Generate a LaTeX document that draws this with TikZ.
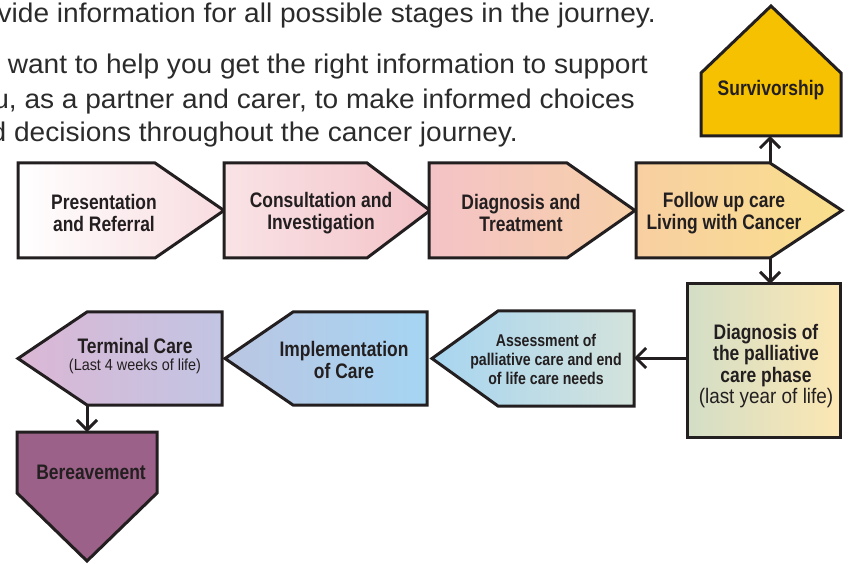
\documentclass[tikz,border=0pt]{standalone}
\usepackage{fontspec}
\setmainfont{Liberation Sans}
\newfontfamily\bodyfont[FakeStretch=1.04]{Liberation Sans}
\newfontfamily\labfont[FakeStretch=0.83]{Liberation Sans}
\newfontfamily\regfont[FakeStretch=0.9]{Liberation Sans}
\usetikzlibrary{arrows.meta}
\definecolor{ink}{HTML}{231F20}
\definecolor{txt}{HTML}{2B2B2B}
\definecolor{aL}{HTML}{FFFFFF}\definecolor{aR}{HTML}{F8DCE0}
\definecolor{bL}{HTML}{F9E3E6}\definecolor{bR}{HTML}{F3C3C8}
\definecolor{cL}{HTML}{F4C3C7}\definecolor{cR}{HTML}{F7D0A8}
\definecolor{dL}{HTML}{F8CFA2}\definecolor{dR}{HTML}{F9DF8C}
\definecolor{surv}{HTML}{F6C100}
\definecolor{pL}{HTML}{D3DEC6}\definecolor{pR}{HTML}{FCE7B3}
\definecolor{eL}{HTML}{A7D5F0}\definecolor{eR}{HTML}{D4E3DC}
\definecolor{iL}{HTML}{BAC6E2}\definecolor{iR}{HTML}{A5D5F3}
\definecolor{tL}{HTML}{DBB7D5}\definecolor{tR}{HTML}{C2C5E3}
\definecolor{ber}{HTML}{9B6188}
\begin{document}
\begin{tikzpicture}[x=1pt,y=-1pt,
  stage/.style={draw=ink, line width=3pt, line join=miter},
  lab/.style={align=center, inner sep=0pt, text=ink,
    font=\labfont\bfseries\fontsize{21}{21.5}\selectfont},
  labsm/.style={align=center, inner sep=0pt, text=ink,
    font=\labfont\bfseries\fontsize{17}{19}\selectfont},
  body/.style={inner sep=0pt, text=txt, anchor=base east,
    font=\bodyfont\fontsize{27}{30}\selectfont},
  conn/.style={draw=ink, line width=3pt,
    -{Straight Barb[length=10pt,width=20pt,line width=3pt]}}]
\clip (0,0) rectangle (852,564);

% intro text
\node[body] (p1) at (656,23) {ovide information for all possible stages in the journey.};
\node[body] (p2) at (648,74) {want to help you get the right information to support};
\node[body] (p3) at (635,109) {u, as a partner and carer, to make informed choices};
\node[body] (p4) at (518,142) {d decisions throughout the cancer journey.};

% top row
\shadedraw[stage, left color=aL, right color=aR]
  (18,163) -- (155,163) -- (224,210.5) -- (155,258) -- (18,258) -- cycle;
\shadedraw[stage, left color=bL, right color=bR]
  (224,163) -- (367,163) -- (430,210.5) -- (367,258) -- (224,258) -- cycle;
\shadedraw[stage, left color=cL, right color=cR]
  (429,163) -- (567,163) -- (635,210.5) -- (567,258) -- (429,258) -- cycle;
\shadedraw[stage, left color=dL, right color=dR]
  (636,163) -- (770,163) -- (842,210.5) -- (770,258) -- (636,258) -- cycle;

% survivorship
\path[stage, fill=surv]
  (701,136) -- (701,73) -- (771,6) -- (841,73) -- (841,136) -- cycle;

% palliative phase
\shadedraw[stage, left color=pL, right color=pR] (687,284) rectangle (840,437);

% bottom row
\shadedraw[stage, left color=eL, right color=eR]
  (634,311) -- (498,311) -- (432,358.5) -- (498,406) -- (634,406) -- cycle;
\shadedraw[stage, left color=iL, right color=iR]
  (427,312) -- (293,312) -- (225,358.5) -- (293,405) -- (427,405) -- cycle;
\shadedraw[stage, left color=tL, right color=tR]
  (222,312) -- (87,312) -- (18,358.5) -- (87,405) -- (222,405) -- cycle;

% bereavement
\path[stage, fill=ber]
  (17,432) -- (157,432) -- (157,493) -- (87,561) -- (17,493) -- cycle;

% connector end points
\coordinate (fuTop) at (770,163);
\coordinate (survBot) at (770,136);
\coordinate (fuBot) at (770,258);
\coordinate (palTop) at (770,284);
\coordinate (palW) at (687,358);
\coordinate (assE) at (634,358);
\coordinate (termBot) at (87,405);
\coordinate (berTop) at (87,432);

\draw[conn] (fuTop) -- (survBot);
\draw[conn] (fuBot) -- (palTop);
\draw[conn] (palW) -- (assE);
\draw[conn] (termBot) -- (berTop);

% labels
\node[lab] (n1) at (104,213) {Presentation\\and Referral};
\node[lab] (n2) at (321,213) {Consultation and\\Investigation};
\node[lab] (n3) at (521,213) {Diagnosis and\\Treatment};
\node[lab] (n4) at (724,213) {Follow up care\\Living with Cancer};
\node[lab] (n5) at (771,90) {Survivorship};
\node[lab] (n6) at (766,366) {Diagnosis of\\the palliative\\care phase\\{\regfont\mdseries (last year of life)}};
\node[labsm] (n7) at (546,359) {Assessment of\\palliative care and end\\of life care needs};
\node[lab] (n8) at (344,360) {Implementation\\of Care};
\node[lab, font=\labfont\bfseries\fontsize{21}{16.5}\selectfont] (n9) at (135,356)
  {Terminal Care\\{\regfont\mdseries\fontsize{16}{16.5}\selectfont (Last 4 weeks of life)}};
\node[lab] (n10) at (91,472) {Bereavement};
\end{tikzpicture}
\end{document}
